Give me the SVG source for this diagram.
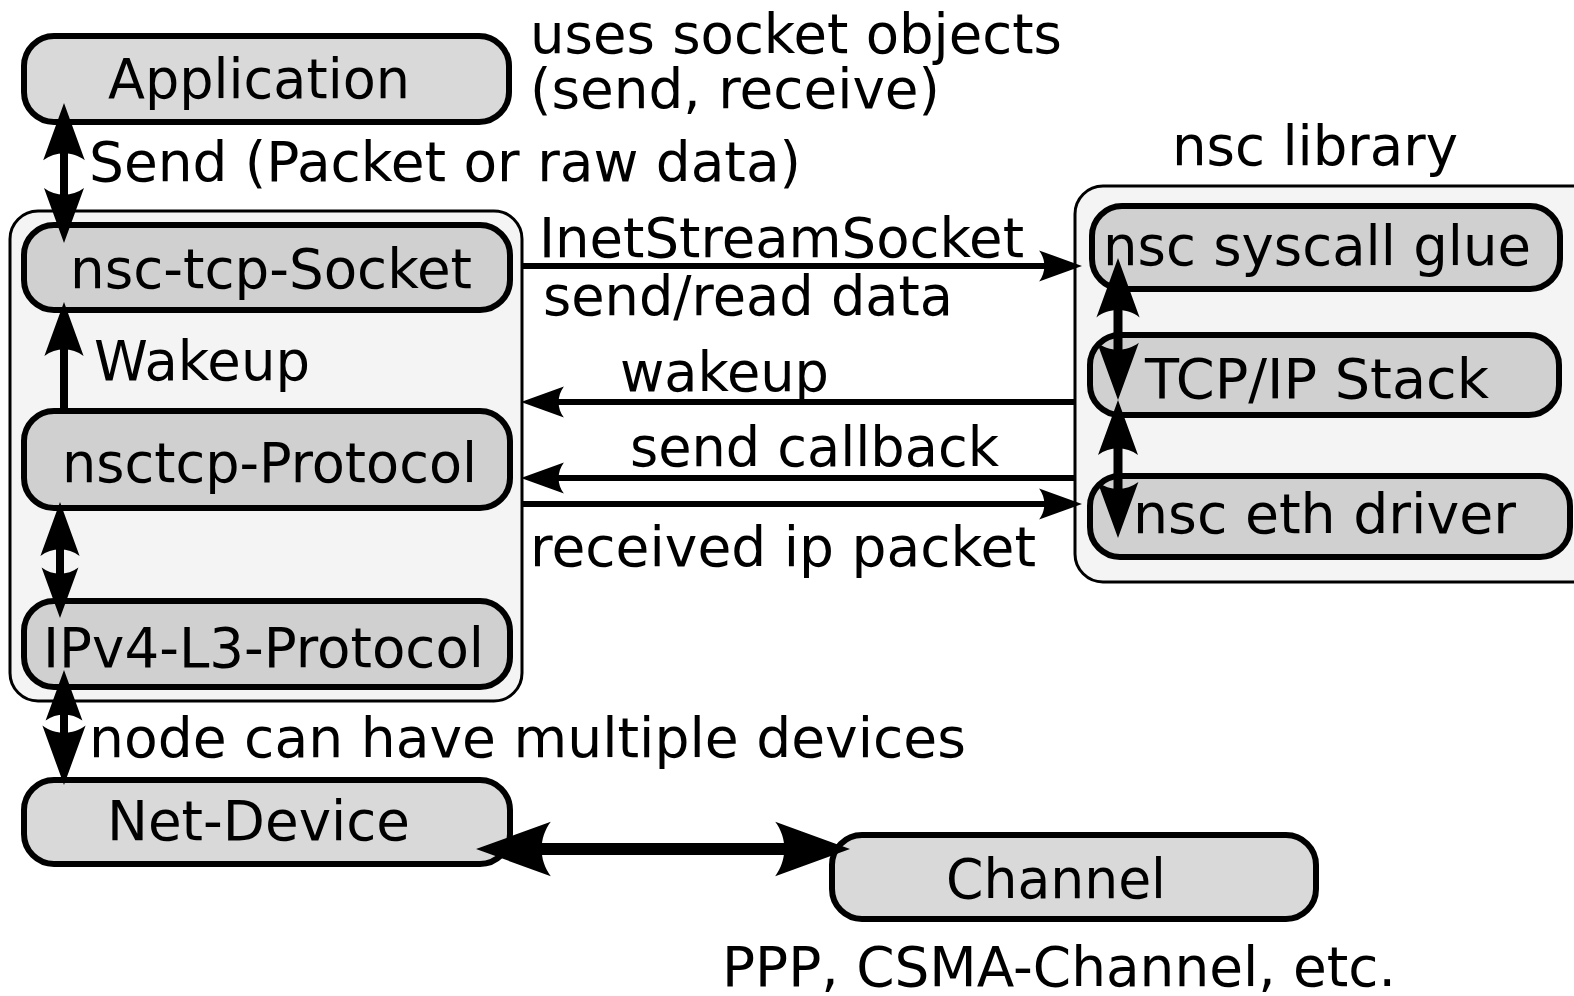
<svg xmlns="http://www.w3.org/2000/svg" xmlns:xlink="http://www.w3.org/1999/xlink" width="1574" height="996" viewBox="0 0 1574 996">
  <style>
    text { font-family: "DejaVu Sans", "Liberation Sans", sans-serif; font-size: 56px; fill: #000; }
    .container { fill: #f4f4f4; stroke: #000; stroke-width: 3; }
    .box { fill: #d9d9d9; stroke: #000; stroke-width: 6; }
    .inner { fill: #d0d0d0; stroke: #000; stroke-width: 6; }
    .wire { fill: none; stroke: #000; }
    .head { fill: #000; stroke: none; }
  </style>
  <defs>
    <!-- arrowhead pointing along +x, tip at the origin, concave back -->
    <path id="ah" class="head" d="M0,0 L-11,-4 C-9.2,-1.6 -9.2,1.6 -11,4 Z"/>
  </defs>

  <!-- containers -->
  <g id="stack-container">
    <rect class="container" x="10" y="211" width="512" height="490" rx="28"/>
  </g>
  <g id="nsc-library">
    <rect class="container" x="1075" y="186" width="530" height="396" rx="28"/>
    <text x="1172" y="165" textLength="286" lengthAdjust="spacingAndGlyphs">nsc library</text>
  </g>

  <!-- nodes -->
  <g id="application">
    <rect class="box" x="24" y="36" width="485" height="86" rx="30"/>
    <text x="108" y="98" textLength="302" lengthAdjust="spacingAndGlyphs">Application</text>
  </g>
  <g id="nsc-tcp-socket">
    <rect class="inner" x="24" y="225" width="486" height="85" rx="30"/>
    <text x="70" y="288" textLength="402" lengthAdjust="spacingAndGlyphs">nsc-tcp-Socket</text>
  </g>
  <g id="nsctcp-protocol">
    <rect class="inner" x="24" y="411" width="486" height="97" rx="30"/>
    <text x="62" y="482" textLength="415" lengthAdjust="spacingAndGlyphs">nsctcp-Protocol</text>
  </g>
  <g id="ipv4-l3-protocol">
    <rect class="inner" x="24" y="601" width="486" height="86" rx="30"/>
    <text x="43" y="667" textLength="441" lengthAdjust="spacingAndGlyphs">IPv4-L3-Protocol</text>
  </g>
  <g id="net-device">
    <rect class="box" x="24" y="780" width="486" height="84" rx="30"/>
    <text x="107" y="840" textLength="303" lengthAdjust="spacingAndGlyphs">Net-Device</text>
  </g>
  <g id="channel">
    <rect class="box" x="832" y="835" width="484" height="84" rx="30"/>
    <text x="946" y="898" textLength="220" lengthAdjust="spacingAndGlyphs">Channel</text>
  </g>
  <g id="nsc-syscall-glue">
    <rect class="inner" x="1092" y="206" width="468" height="83" rx="30"/>
    <text x="1103" y="265" textLength="428" lengthAdjust="spacingAndGlyphs">nsc syscall glue</text>
  </g>
  <g id="tcp-ip-stack">
    <rect class="inner" x="1090" y="335" width="469" height="80" rx="30"/>
    <text x="1145" y="398" textLength="344" lengthAdjust="spacingAndGlyphs">TCP/IP Stack</text>
  </g>
  <g id="nsc-eth-driver">
    <rect class="inner" x="1090" y="476" width="480" height="81" rx="30"/>
    <text x="1133" y="533" textLength="383" lengthAdjust="spacingAndGlyphs">nsc eth driver</text>
  </g>

  <!-- free labels -->
  <g id="labels">
    <text x="530" y="53" textLength="532" lengthAdjust="spacingAndGlyphs">uses socket objects</text>
    <text x="530" y="108" textLength="410" lengthAdjust="spacingAndGlyphs">(send, receive)</text>
    <text x="89" y="181" textLength="712" lengthAdjust="spacingAndGlyphs">Send (Packet or raw data)</text>
    <text x="94" y="380" textLength="216" lengthAdjust="spacingAndGlyphs">Wakeup</text>
    <text x="539" y="257" textLength="485" lengthAdjust="spacingAndGlyphs">InetStreamSocket</text>
    <text x="543" y="315" textLength="410" lengthAdjust="spacingAndGlyphs">send/read data</text>
    <text x="620" y="391" textLength="209" lengthAdjust="spacingAndGlyphs">wakeup</text>
    <text x="630" y="466" textLength="369" lengthAdjust="spacingAndGlyphs">send callback</text>
    <text x="530" y="566" textLength="506" lengthAdjust="spacingAndGlyphs">received ip packet</text>
    <text x="89" y="757" textLength="877" lengthAdjust="spacingAndGlyphs">node can have multiple devices</text>
    <text x="722" y="986" textLength="674" lengthAdjust="spacingAndGlyphs">PPP, CSMA-Channel, etc.</text>
  </g>

  <!-- connectors -->
  <g id="connectors">
    <!-- Application <-> nsc-tcp-Socket -->
    <line class="wire" x1="64" y1="125" x2="64" y2="222" stroke-width="8"/>
    <use xlink:href="#ah" href="#ah" transform="translate(64,103) rotate(-90) scale(5.2)"/>
    <use xlink:href="#ah" href="#ah" transform="translate(64,243) rotate(90) scale(5)"/>

    <!-- nsctcp-Protocol -> nsc-tcp-Socket (Wakeup) -->
    <line class="wire" x1="64" y1="325" x2="64" y2="410" stroke-width="8"/>
    <use xlink:href="#ah" href="#ah" transform="translate(64,302) rotate(-90) scale(4.9)"/>

    <!-- nsctcp-Protocol <-> IPv4-L3-Protocol -->
    <line class="wire" x1="60" y1="522" x2="60" y2="598" stroke-width="8"/>
    <use xlink:href="#ah" href="#ah" transform="translate(60,502) rotate(-90) scale(4.9)"/>
    <use xlink:href="#ah" href="#ah" transform="translate(60,618) rotate(90) scale(4.6)"/>

    <!-- IPv4-L3-Protocol <-> Net-Device -->
    <line class="wire" x1="64" y1="690" x2="64" y2="765" stroke-width="8"/>
    <use xlink:href="#ah" href="#ah" transform="translate(64,670) rotate(-90) scale(4.6)"/>
    <use xlink:href="#ah" href="#ah" transform="translate(64,785) rotate(90) scale(5.4)"/>

    <!-- Net-Device <-> Channel -->
    <line class="wire" x1="505" y1="849" x2="820" y2="849" stroke-width="12"/>
    <use xlink:href="#ah" href="#ah" transform="translate(476,849) rotate(180) scale(6.8)"/>
    <use xlink:href="#ah" href="#ah" transform="translate(850,849) scale(6.8)"/>

    <!-- InetStreamSocket send/read data -->
    <line class="wire" x1="521" y1="266" x2="1065" y2="266" stroke-width="6"/>
    <use xlink:href="#ah" href="#ah" transform="translate(1082,266) scale(3.9)"/>

    <!-- wakeup -->
    <line class="wire" x1="1075" y1="402" x2="538" y2="402" stroke-width="6"/>
    <use xlink:href="#ah" href="#ah" transform="translate(521,402) rotate(180) scale(3.9)"/>

    <!-- send callback -->
    <line class="wire" x1="1075" y1="478" x2="538" y2="478" stroke-width="6"/>
    <use xlink:href="#ah" href="#ah" transform="translate(521,478) rotate(180) scale(3.9)"/>

    <!-- received ip packet -->
    <line class="wire" x1="521" y1="504" x2="1065" y2="504" stroke-width="6"/>
    <use xlink:href="#ah" href="#ah" transform="translate(1082,504) scale(3.9)"/>

    <!-- nsc syscall glue <-> TCP/IP Stack -->
    <line class="wire" x1="1118" y1="280" x2="1118" y2="380" stroke-width="9"/>
    <use xlink:href="#ah" href="#ah" transform="translate(1118,258) rotate(-90) scale(5.4)"/>
    <use xlink:href="#ah" href="#ah" transform="translate(1118,400) rotate(90) scale(5.2)"/>

    <!-- TCP/IP Stack <-> nsc eth driver -->
    <line class="wire" x1="1118" y1="420" x2="1118" y2="518" stroke-width="9"/>
    <use xlink:href="#ah" href="#ah" transform="translate(1118,400) rotate(-90) scale(5)"/>
    <use xlink:href="#ah" href="#ah" transform="translate(1118,538) rotate(90) scale(5.1)"/>
  </g>
</svg>
